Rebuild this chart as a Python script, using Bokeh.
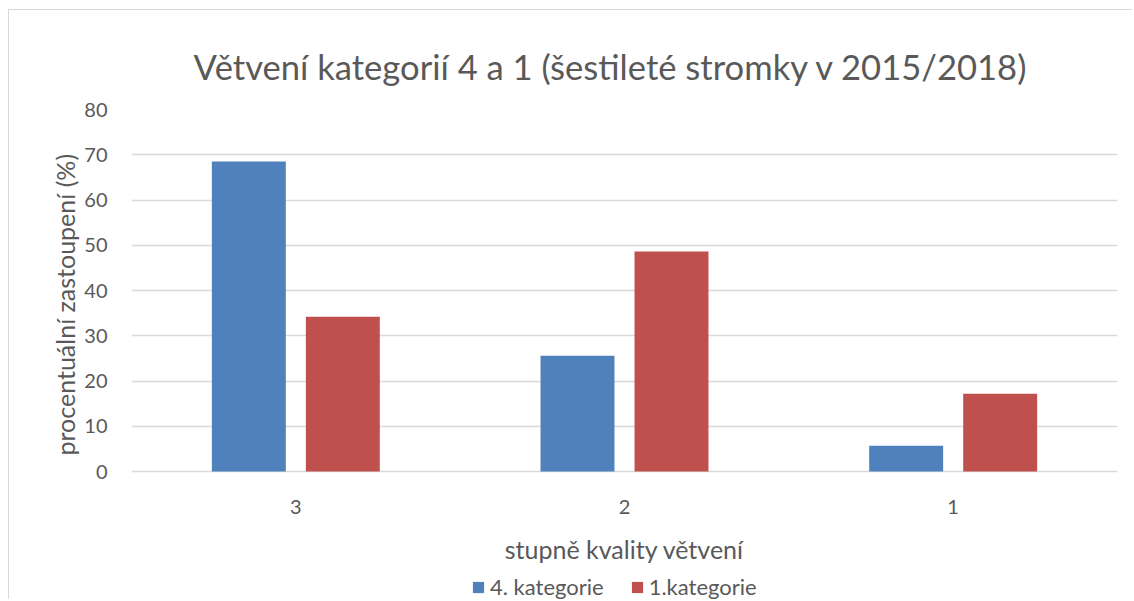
from bokeh.plotting import figure
from bokeh.models import (ColumnDataSource, FactorRange, Range1d, Legend, LegendItem,
                          FixedTicker, Title)
from bokeh.transform import dodge
from bokeh.embed import file_html
from bokeh.resources import INLINE

categories = ["3", "2", "1"]
kat4 = [68.5, 25.6, 5.7]
kat1 = [34.2, 48.6, 17.2]
y_ticks = [0, 10, 20, 30, 40, 50, 60, 70, 80]
series_names = ["4. kategorie", "1.kategorie"]
title_text = "Větvení kategorií 4 a 1 (šestileté stromky v 2015/2018)"
y_title = "procentuální zastoupení (%)"
x_title = "stupně kvality větvení"

FONT = "Lato"
TXT = "#595959"
GRID = "#D9D9D9"
BLUE = "#4F81BD"
RED = "#C0504D"

src = ColumnDataSource(dict(cat=categories, k4=kat4, k1=kat1))

# frame runs from the chart's top gridline down to the bottom of the page so that
# the axis/legend drawn below the zero line stay visible
p = figure(width=1124, height=590, x_range=FactorRange(factors=categories),
           y_range=Range1d(-28.5, 80), output_backend="svg", toolbar_location=None,
           min_border_left=122, min_border_right=16, min_border_top=99, min_border_bottom=0)
p.styles = {"margin-left": "8px", "margin-top": "9px",
            "border-left": "1px solid #D9D9D9", "border-top": "1px solid #D9D9D9"}
p.outline_line_color = None
p.background_fill_color = "white"
p.border_fill_color = "white"

p.title.text = title_text
p.title.text_font = FONT
p.title.text_font_size = "34.6px"
p.title.text_font_style = "normal"
p.title.text_color = TXT
p.title.align = "left"
p.title.offset = 62
p.title.standoff = 46

r1 = p.vbar(x=dodge("cat", -0.143, range=p.x_range), top="k4", width=0.225, source=src,
            fill_color=BLUE, line_color=None)
r2 = p.vbar(x=dodge("cat", 0.143, range=p.x_range), top="k1", width=0.225, source=src,
            fill_color=RED, line_color=None)

p.yaxis.ticker = FixedTicker(ticks=y_ticks)
p.ygrid.grid_line_color = GRID
p.ygrid.grid_line_width = 1.5
p.xgrid.grid_line_color = None

for ax in (p.xaxis, p.yaxis):
    ax.axis_line_color = None
    ax.major_tick_line_color = None
    ax.minor_tick_line_color = None
    ax.major_label_text_font = FONT
    ax.major_label_text_font_size = "20px"
    ax.major_label_text_color = TXT
    ax.axis_label_text_font = FONT
    ax.axis_label_text_font_style = "normal"
    ax.axis_label_text_color = TXT
    ax.axis_label_text_font_size = "25px"

p.yaxis.major_label_standoff = 18
p.xaxis.fixed_location = 0
p.xaxis.major_label_standoff = 22
p.xaxis.axis_label = x_title
p.xaxis.axis_label_standoff = 17

yt = Title(text=y_title, align="left", offset=145, standoff=4, text_font=FONT,
           text_font_size="25px", text_font_style="normal", text_color=TXT)
p.add_layout(yt, "left")

legend = Legend(items=[LegendItem(label=series_names[0], renderers=[r1]),
                       LegendItem(label=series_names[1], renderers=[r2])],
                orientation="horizontal", location=(340, 0),
                label_text_font=FONT, label_text_font_size="22px", label_text_color=TXT,
                glyph_width=14, glyph_height=14, label_standoff=5, spacing=26,
                border_line_color=None, background_fill_alpha=0, padding=0, margin=0)
p.add_layout(legend)

open("out.html", "w").write(file_html(p, INLINE))
